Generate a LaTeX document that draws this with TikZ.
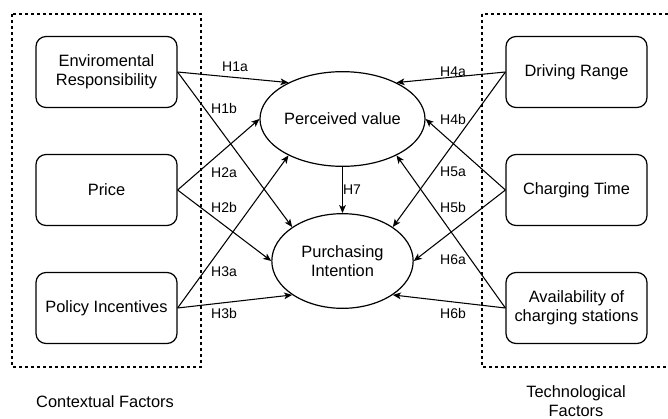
\documentclass[tikz,border=0pt]{standalone}
\usepackage{fontspec}
\setmainfont{Liberation Sans}
\usepackage{tikz}
\usetikzlibrary{shapes.geometric,arrows.meta}
\tikzstyle{factor} = [draw=black, line width=0.9pt, rounded corners=7.5pt, minimum width=105.75pt, minimum height=53.25pt, align=center, font={\fontsize{12.3}{14.5}\selectfont}]
\tikzstyle{latent} = [draw=black, line width=0.9pt, ellipse, inner sep=0pt, minimum width=106pt, minimum height=71pt, align=center, font={\fontsize{12.3}{14.5}\selectfont}]
\tikzstyle{group} = [draw=black, line width=0.8pt, dash pattern=on 2.25pt off 2.25pt]
\tikzstyle{hyp} = [font={\fontsize{10.5}{12}\selectfont}]
\tikzstyle{caption} = [align=center, font={\fontsize{12.3}{14.5}\selectfont}]

\begin{document}
\begin{tikzpicture}[x=0.75pt,y=-0.75pt,>={Stealth[length=6pt,width=5pt,inset=1.5pt]},line width=0.8pt]
    \useasboundingbox (0,0) rectangle (668,418);
    \node[factor](env) at (106.5,72){Enviromental\\Responsibility};
    \node[factor](price) at (106.5,190){Price};
    \node[factor](policy) at (106.5,308){Policy Incentives};
    \node[factor](range) at (576.5,72){Driving Range};
    \node[factor](time) at (576.5,190){Charging Time};
    \node[factor](avail) at (576.5,308){Availability of\\charging stations};
    \node[latent](pv) at (342.5,119){Perceived value};
    \node[latent](pint) at (342.5,261){Purchasing\\Intention};
    \draw[group](12,14) rectangle (201,367);
    \draw[group](482,14) rectangle (672,367);
    \node[caption](ctx) at (105,402){Contextual Factors};
    \node[caption](tech) at (576,401){Technological\\Factors};
    \draw[->](env.east)--(pv.146);
    \draw[->](env.east)--(pint.146);
    \draw[->](price.east)--(pv.180);
    \draw[->](price.east)--(pint.180);
    \draw[->](policy.east)--(pv.214);
    \draw[->](policy.east)--(pint.214);
    \draw[->](range.west)--(pv.34);
    \draw[->](range.west)--(pint.34);
    \draw[->](time.west)--(pv.0);
    \draw[->](time.west)--(pint.0);
    \draw[->](avail.west)--(pv.-34);
    \draw[->](avail.west)--(pint.-34);
    \draw[->](pv.south)--(pint.north);
    \node[hyp](h1a) at (235,67){H1a};
    \node[hyp](h1b) at (224,108){H1b};
    \node[hyp](h2a) at (224,173){H2a};
    \node[hyp](h2b) at (224,207){H2b};
    \node[hyp](h3a) at (224,272){H3a};
    \node[hyp](h3b) at (224,313){H3b};
    \node[hyp](h4a) at (453,72){H4a};
    \node[hyp](h4b) at (453,119){H4b};
    \node[hyp](h5a) at (453,172){H5a};
    \node[hyp](h5b) at (453,207){H5b};
    \node[hyp](h6a) at (453,260){H6a};
    \node[hyp](h6b) at (453,313){H6b};
    \node[hyp](h7) at (352,190){H7};
  \end{tikzpicture}
\end{document}
